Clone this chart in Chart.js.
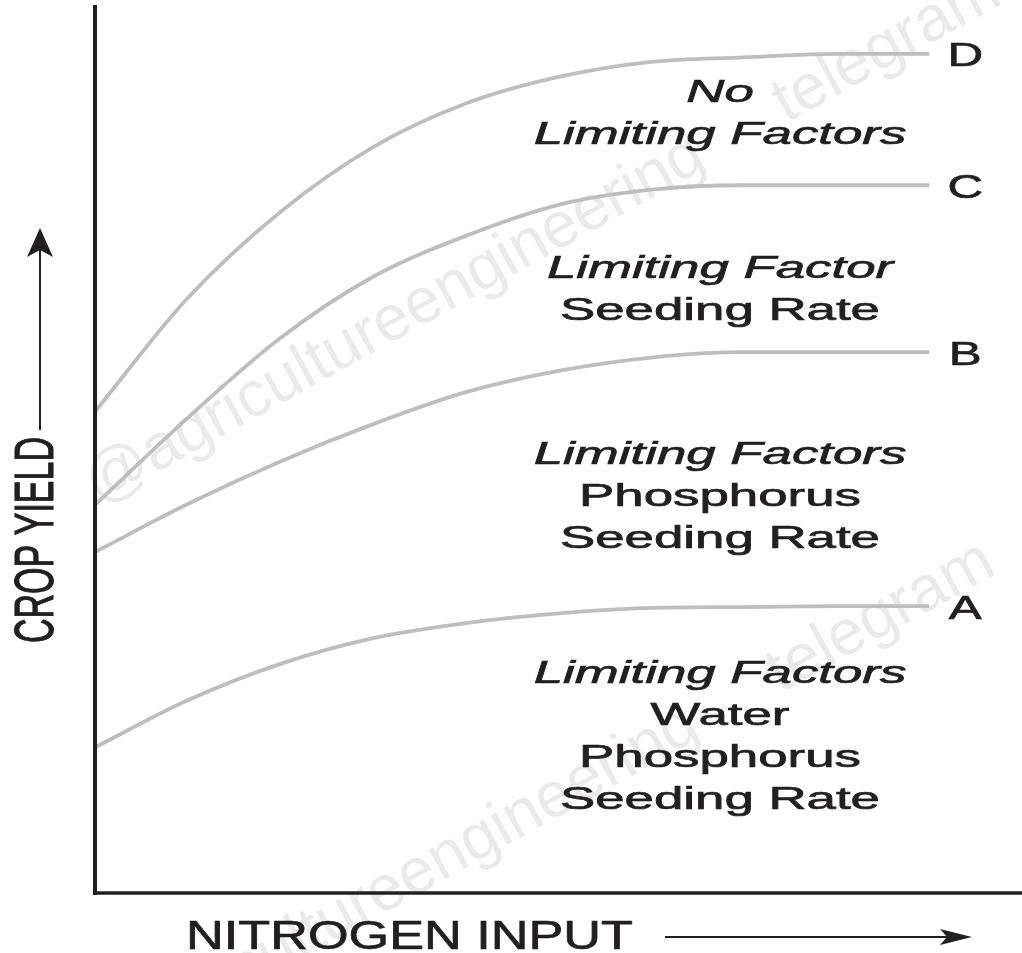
<!DOCTYPE html>
<html>
<head>
<meta charset="utf-8">
<script src="https://cdn.jsdelivr.net/npm/chart.js@4/dist/chart.umd.min.js"></script>
<style>
  html, body { margin: 0; padding: 0; background: #ffffff; }
  #wrap { width: 1022px; height: 953px; position: relative; }
</style>
</head>
<body>
<div id="wrap"><canvas id="yieldChart"></canvas></div>
<script>
// ------------------------------------------------------------
// 窒素投入量と収量 (制限要因ごとの応答曲線)
// ------------------------------------------------------------

// x: 窒素投入量 (相対値 0-100)
const nitrogenInput = [0, 10, 20, 30, 40, 50, 60, 70, 80, 90];

// y: 収量 (相対値 0-100)
const yieldD = [54.2, 67.0, 76.7, 84.0, 88.9, 91.9, 93.6, 94.1, 94.5, 94.5];
const yieldC = [43.7, 53.5, 62.5, 69.4, 74.0, 77.5, 79.2, 79.7, 79.7, 79.7];
const yieldB = [38.4, 43.8, 48.6, 52.8, 56.4, 58.8, 60.3, 60.9, 60.9, 60.9];
const yieldA = [16.4, 21.7, 25.8, 28.7, 30.4, 31.5, 32.1, 32.2, 32.3, 32.3];

const curveNames = ['D', 'C', 'B', 'A'];
const curveValues = [yieldD, yieldC, yieldB, yieldA];

// 各領域のラベル (上から)
const regionText = [
  ['No', 'Limiting Factors'],
  ['Limiting Factor', 'Seeding Rate'],
  ['Limiting Factors', 'Phosphorus', 'Seeding Rate'],
  ['Limiting Factors', 'Water', 'Phosphorus', 'Seeding Rate'],
];

const xTitle = 'NITROGEN INPUT';
const yTitle = 'CROP YIELD';
const watermark = '@agricultureengineering     telegram';

const INK = '#231f20';
const CURVE = '#bcbec0';
const FONT = '"Liberation Sans", Arial, Helvetica, sans-serif';

// 横に引き伸ばした文字 (少し太らせる)
function stretchText(ctx, text, x, y, sx, align) {
  ctx.save();
  ctx.translate(x, y);
  ctx.scale(sx, 1);
  ctx.textAlign = align;
  ctx.lineWidth = 0.7;
  ctx.fillText(text, 0, 0);
  ctx.strokeText(text, 0, 0);
  ctx.restore();
}

const annotate = {
  id: 'annotate',
  beforeDatasetsDraw(chart) {
    const ctx = chart.ctx;
    // 透かし
    ctx.save();
    ctx.font = '64px ' + FONT;
    ctx.fillStyle = 'rgba(150, 150, 150, 0.2)';
    ctx.textBaseline = 'alphabetic';
    [[98, 505], [92, 1075]].forEach(([wx, wy]) => {
      ctx.save();
      ctx.translate(wx, wy);
      ctx.rotate(-29 * Math.PI / 180);
      ctx.fillText(watermark, 0, 0);
      ctx.restore();
    });
    ctx.restore();
  },
  afterDatasetsDraw(chart) {
    const ctx = chart.ctx;
    const { left, right, top, bottom } = chart.chartArea;
    ctx.save();
    ctx.fillStyle = INK;
    ctx.strokeStyle = INK;
    ctx.textBaseline = 'alphabetic';

    // 軸
    ctx.lineCap = 'butt';
    ctx.lineWidth = 4;
    ctx.beginPath();
    ctx.moveTo(left, top);
    ctx.lineTo(left, bottom + 2);
    ctx.stroke();
    ctx.lineWidth = 3.5;
    ctx.beginPath();
    ctx.moveTo(left - 2, bottom);
    ctx.lineTo(right, bottom);
    ctx.stroke();

    // 曲線ラベル D C B A
    ctx.font = '34px ' + FONT;
    curveNames.forEach((name, i) => {
      const pts = chart.getDatasetMeta(i).data;
      const last = pts[pts.length - 1];
      stretchText(ctx, name, last.x + 36, last.y + 12.5, 1.45, 'center');
    });

    // 領域ラベル
    const regionTop = [102, 278, 464, 683];
    regionText.forEach((lines, r) => {
      lines.forEach((line, k) => {
        const italic = line.startsWith('No') || line.startsWith('Limiting');
        ctx.font = (italic ? 'italic ' : '') + '32px ' + FONT;
        stretchText(ctx, line, 720, regionTop[r] + k * 42, 1.65, 'center');
      });
    });

    // x 軸タイトルと矢印
    ctx.font = '41px ' + FONT;
    const wx = ctx.measureText(xTitle).width;
    stretchText(ctx, xTitle, 186, 949, 447 / wx, 'left');
    ctx.lineWidth = 2;
    ctx.beginPath();
    ctx.moveTo(665, 937);
    ctx.lineTo(950, 937);
    ctx.stroke();
    ctx.beginPath();
    ctx.moveTo(972, 937);
    ctx.lineTo(940, 929);
    ctx.lineTo(947, 937);
    ctx.lineTo(940, 945);
    ctx.closePath();
    ctx.fill();

    // y 軸タイトルと矢印
    ctx.font = '34px ' + FONT;
    const wy = ctx.measureText(yTitle).width;
    ctx.save();
    ctx.translate(53, 540);
    ctx.rotate(-Math.PI / 2);
    ctx.scale(206 / wy, 1.64);
    ctx.textAlign = 'center';
    ctx.lineWidth = 0.7;
    ctx.fillText(yTitle, 0, 0);
    ctx.strokeText(yTitle, 0, 0);
    ctx.restore();
    ctx.lineWidth = 2;
    ctx.beginPath();
    ctx.moveTo(40, 430);
    ctx.lineTo(40, 250);
    ctx.stroke();
    ctx.beginPath();
    ctx.moveTo(40, 228);
    ctx.lineTo(27, 257);
    ctx.lineTo(40, 250);
    ctx.lineTo(53, 257);
    ctx.closePath();
    ctx.fill();

    ctx.restore();
  },
};

new Chart(document.getElementById('yieldChart').getContext('2d'), {
  type: 'line',
  data: {
    datasets: curveNames.map((name, i) => ({
      label: name,
      data: nitrogenInput.map((x, j) => ({ x, y: curveValues[i][j] })),
      borderColor: CURVE,
      borderWidth: 3.8,
      pointRadius: 0,
      fill: false,
      cubicInterpolationMode: 'monotone',
    })),
  },
  options: {
    responsive: true,
    maintainAspectRatio: false,
    animation: false,
    layout: { padding: { left: 95, right: 0, top: 5, bottom: 60 } },
    plugins: {
      legend: { display: false },
      tooltip: { enabled: false },
    },
    scales: {
      x: { type: 'linear', min: 0, max: 100, display: false },
      y: { min: 0, max: 100, display: false },
    },
  },
  plugins: [annotate],
});
</script>
</body>
</html>
